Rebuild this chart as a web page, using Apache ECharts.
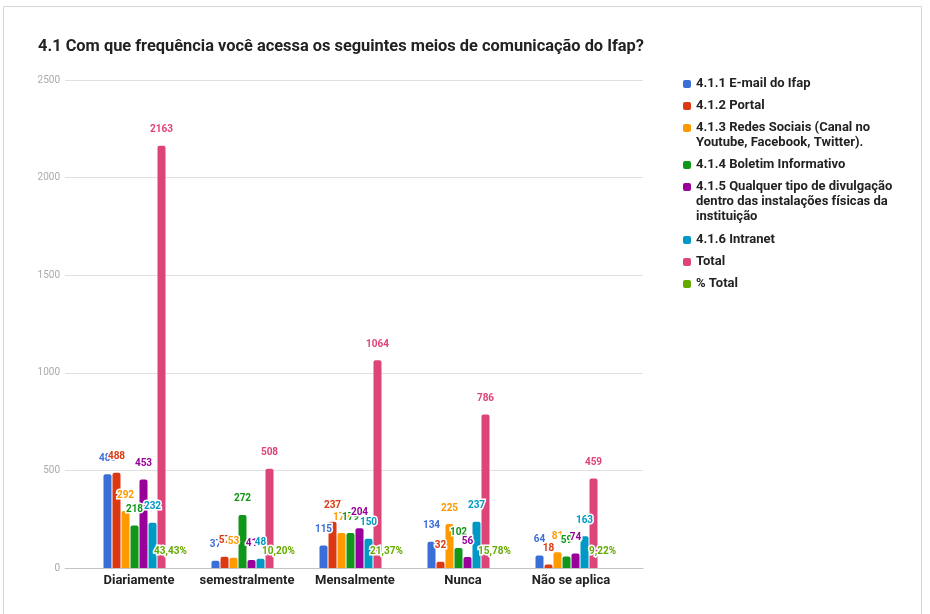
<!DOCTYPE html>
<html>
<head>
<meta charset="utf-8">
<script src="https://cdn.jsdelivr.net/npm/echarts@6/dist/echarts.min.js"></script>
<style>
  html, body { margin: 0; padding: 0; background: #fff; }
  #chart { width: 930px; height: 614px; }
</style>
</head>
<body>
<div id="chart"></div>
<script>
// Categories (frequency answers)
const categories = ['Diariamente', 'semestralmente', 'Mensalmente', 'Nunca', 'Não se aplica'];

// Series names (line breaks as shown in the legend)
const seriesNames = [
  '4.1.1 E-mail do Ifap',
  '4.1.2 Portal',
  '4.1.3 Redes Sociais (Canal no\nYoutube, Facebook, Twitter).',
  '4.1.4 Boletim Informativo',
  '4.1.5 Qualquer tipo de divulgação\ndentro das instalações físicas da\ninstituição',
  '4.1.6 Intranet',
  'Total',
  '% Total'
];

// Counts per communication channel
const email        = [480, 37, 115, 134, 64];
const portal       = [488, 57, 237, 32, 18];
const redesSociais = [292, 53, 179, 225, 81];
const boletim      = [218, 272, 179, 102, 59];
const divulgacao   = [453, 41, 204, 56, 74];
const intranet     = [232, 48, 150, 237, 163];
const total        = [2163, 508, 1064, 786, 459];
const pctTotal     = [0.4343, 0.1020, 0.2137, 0.1578, 0.0922];

// Value axis ticks
const yTicks = [0, 500, 1000, 1500, 2000, 2500];

const seriesData = [email, portal, redesSociais, boletim, divulgacao, intranet, total, pctTotal];
const colors = ['#3a6fd8', '#dc3912', '#ff9900', '#109618', '#990099', '#0099c6', '#dd4477', '#66aa00'];

const FONT = 'Roboto, "Noto Sans", sans-serif';
const yMin = yTicks[0];
const yMax = yTicks[yTicks.length - 1];
const yStep = yTicks[1] - yTicks[0];

const series = seriesData.map((data, i) => ({
  name: seriesNames[i],
  type: 'bar',
  xAxisIndex: 0,
  yAxisIndex: 0,
  data: data,
  barWidth: 8,
  barGap: '12.5%',
  itemStyle: { color: colors[i], borderRadius: [2, 2, 0, 0] },
  label: {
    show: true,
    position: 'top',
    distance: 11,
    color: colors[i],
    fontFamily: FONT,
    fontSize: 10,
    fontWeight: 'bold',
    textBorderColor: '#fff',
    textBorderWidth: 3,
    formatter: i === 7
      ? (p) => (p.value * 100).toFixed(2).replace('.', ',') + '%'
      : '{c}'
  }
}));

// Legend: three stacked blocks so that each icon sits on the first line
// of its (possibly wrapped) label; the wrapped lines are drawn as text below.
const LEG_LEFT = 683;
const LEG_TEXT_X = LEG_LEFT + 8 + 5;
const LINE_H = 15;
const legendTextStyle = { fontFamily: FONT, fontSize: 13, fontWeight: 'bold', color: '#222', lineHeight: LINE_H };
const legendBlocks = [
  { names: seriesNames.slice(0, 3), firstY: 84 },
  { names: seriesNames.slice(3, 5), firstY: 165 },
  { names: seriesNames.slice(5, 8), firstY: 240 }
];
const legends = legendBlocks.map((b) => ({
  orient: 'vertical',
  left: LEG_LEFT,
  top: b.firstY - LINE_H / 2,
  padding: 0,
  itemWidth: 8,
  itemHeight: 8,
  itemGap: 22 - LINE_H,
  icon: 'roundRect',
  selectedMode: false,
  textStyle: legendTextStyle,
  formatter: (name) => name.split('\n')[0],
  data: b.names
}));

const wrapTexts = [];
legendBlocks.forEach((b) => {
  b.names.forEach((name, k) => {
    const lines = name.split('\n');
    const y0 = b.firstY + k * 22;
    for (let j = 1; j < lines.length; j++) {
      wrapTexts.push({
        type: 'text',
        silent: true,
        x: LEG_TEXT_X,
        y: y0 + j * LINE_H,
        style: {
          text: lines[j],
          font: 'bold 13px ' + FONT,
          fill: '#222',
          verticalAlign: 'middle'
        }
      });
    }
  });
});

const chart = echarts.init(document.getElementById('chart'), null, { renderer: 'canvas' });
chart.setOption({
  animation: false,
  backgroundColor: '#fff',
  color: colors,
  title: {
    text: '4.1 Com que frequência você acessa os seguintes meios de comunicação do Ifap?',
    left: 38,
    top: 39,
    padding: 0,
    textStyle: { fontFamily: FONT, fontSize: 16.4, fontWeight: 'bold', color: '#222' }
  },
  legend: legends,
  grid: [
    // bars
    { left: 85, right: 305, top: 80, bottom: 46, containLabel: false },
    // gridlines and value labels
    { left: 65, right: 287, top: 80, bottom: 46, containLabel: false }
  ],
  xAxis: [
    {
      type: 'category',
      gridIndex: 0,
      data: categories,
      axisLine: { show: false },
      axisTick: { show: false },
      axisLabel: { interval: 0, fontFamily: FONT, fontSize: 13, fontWeight: 'bold', color: '#222', margin: 6 }
    },
    {
      type: 'value',
      gridIndex: 1,
      min: 0,
      max: 1,
      axisLine: { show: true, lineStyle: { color: '#c4c4c4', width: 1 } },
      axisTick: { show: false },
      axisLabel: { show: false },
      splitLine: { show: false }
    }
  ],
  yAxis: [
    {
      type: 'value',
      gridIndex: 0,
      min: yMin,
      max: yMax,
      interval: yStep,
      show: false
    },
    {
      type: 'value',
      gridIndex: 1,
      min: yMin,
      max: yMax,
      interval: yStep,
      axisLine: { show: false },
      axisTick: { show: false },
      axisLabel: { fontFamily: FONT, fontSize: 10, color: '#aaa', margin: 5, formatter: (v) => String(v) },
      splitLine: { show: true, lineStyle: { color: '#e0e0e0', width: 1 } }
    }
  ],
  graphic: [
    {
      type: 'rect',
      silent: true,
      shape: { x: 3.5, y: 6.5, width: 918, height: 640 },
      style: { fill: 'none', stroke: '#d6d6d6', lineWidth: 1 }
    }
  ].concat(wrapTexts),
  series: series
});
</script>
</body>
</html>
